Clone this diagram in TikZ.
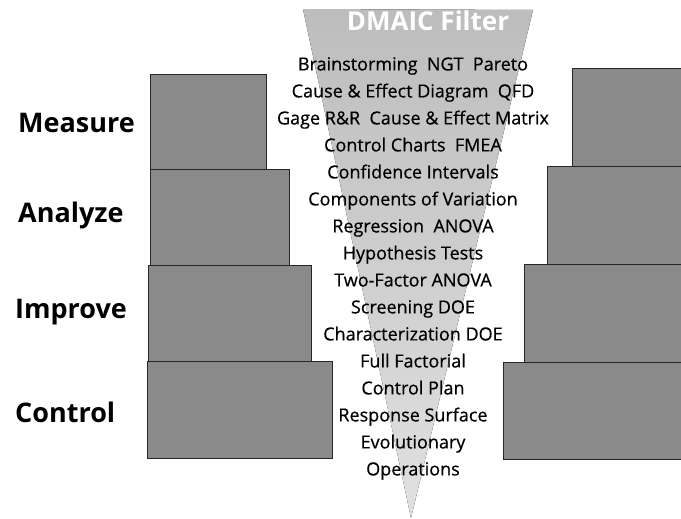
\documentclass[tikz,border=0pt]{standalone}
\usepackage{fontspec}
\setmainfont{Open Sans}
\newfontfamily\toolfont[FakeBold=0.5]{Open Sans}
\begin{document}
\begin{tikzpicture}[x=1pt,y=-1pt,
  stepbox/.style={draw=black!85,line width=1pt,fill=black!46,inner sep=0pt,anchor=north west},
  phase/.style={font=\bfseries\fontsize{27}{30}\selectfont,anchor=west,inner sep=0pt},
  toollist/.style={align=center,inner sep=0pt,font=\toolfont\fontsize{18}{27}\selectfont}]
\clip (0,0) rectangle (681,519);
\fill[white] (0,0) rectangle (681,519);
% filter funnel
\fill[top color=black!26,bottom color=black!12] (303,9) -- (533,10) -- (411,518) -- cycle;
\node (title) [font=\bfseries\fontsize{26}{30}\selectfont,text=white,inner sep=0pt] at (428,21) {DMAIC Filter};
% left staircase
\node (lm) [stepbox,minimum width=116pt,minimum height=95pt] at (150,74) {};
\node (la) [stepbox,minimum width=139pt,minimum height=96pt] at (150,169) {};
\node (li) [stepbox,minimum width=163pt,minimum height=96pt] at (148,265) {};
\node (lc) [stepbox,minimum width=185pt,minimum height=97pt] at (147,361) {};
% right staircase
\node (rm) [stepbox,minimum width=130pt,minimum height=98pt] at (572,68) {};
\node (ra) [stepbox,minimum width=150pt,minimum height=98pt] at (547,166) {};
\node (ri) [stepbox,minimum width=170pt,minimum height=98pt] at (524,264) {};
\node (rc) [stepbox,minimum width=190pt,minimum height=97pt] at (503,362) {};
% phase labels
\node (measure) [phase] at (18,123) {Measure};
\node (analyze) [phase] at (18,215) {Analyze};
\node (improve) [phase] at (15,312) {Improve};
\node (control) [phase] at (15,412) {Control};
% tools passing through the filter
\node (tools) [toollist,anchor=north] at (413,57) {%
Brainstorming\ \ NGT\ \ Pareto\\
Cause \& Effect Diagram\ \ QFD\\
Gage R\&R\ \ Cause \& Effect Matrix\\
Control Charts\ \ FMEA\\
Confidence Intervals\\
Components of Variation\\
Regression\ \ ANOVA\\
Hypothesis Tests\\
Two-Factor ANOVA\\
Screening DOE\\
Characterization DOE\\
Full Factorial\\
Control Plan\\
Response Surface\\
Evolutionary\\
Operations};
\end{tikzpicture}
\end{document}
